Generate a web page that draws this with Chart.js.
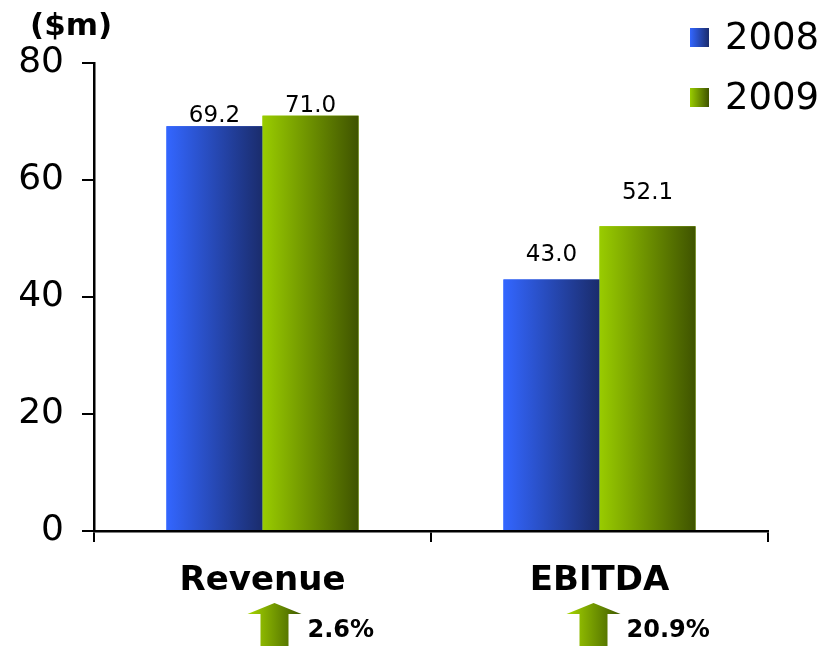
<!DOCTYPE html>
<html>
<head>
<meta charset="utf-8">
<script src="https://cdn.jsdelivr.net/npm/chart.js@4"></script>
<style>
  html, body { margin: 0; padding: 0; background: #fff; }
  #wrap { width: 827px; height: 646px; }
</style>
</head>
<body>
<div id="wrap"><canvas id="revChart" width="827" height="646"></canvas></div>
<script>
// chart data
const categories = ["Revenue", "EBITDA"];
const years = ["2008", "2009"];
const values2008 = [69.2, 43.0];
const values2009 = [71.0, 52.1];
const growthLabels = ["2.6%", "20.9%"];
const yTicks = [0, 20, 40, 60, 80];

const FONT = "'DejaVu Sans', Verdana, sans-serif";

// horizontal gradient stops for each series
const gradStops = [
  ["#3366ff", "#1a2c6c"],
  ["#99cc00", "#3f5300"],
];

function hGrad(ctx, x0, x1, stops) {
  const g = ctx.createLinearGradient(x0, 0, x1, 0);
  g.addColorStop(0, stops[0]);
  g.addColorStop(1, stops[1]);
  return g;
}

// paint the bars with gradients and put value labels above them
const barPaint = {
  id: "barPaint",
  afterDatasetsDraw(chart) {
    const ctx = chart.ctx;
    const gaps = [[4, 4], [18, 27]]; // label gap above bar, per category/series
    chart.data.datasets.forEach((ds, di) => {
      const meta = chart.getDatasetMeta(di);
      meta.data.forEach((el, i) => {
        const left = el.x - el.width / 2;
        const right = el.x + el.width / 2;
        ctx.save();
        ctx.fillStyle = hGrad(ctx, left, right, gradStops[di]);
        ctx.fillRect(left, el.y, el.width, el.base - el.y);
        ctx.fillStyle = "#000";
        ctx.font = "23px " + FONT;
        ctx.textAlign = "center";
        ctx.textBaseline = "alphabetic";
        ctx.fillText(ds.data[i].toFixed(1), el.x, el.y - gaps[i][di]);
        ctx.restore();
      });
    });
  },
  afterDraw(chart) {
    const ctx = chart.ctx;
    const xs = chart.scales.x;
    ctx.save();
    // unit label
    ctx.fillStyle = "#000";
    ctx.font = "bold 31px " + FONT;
    ctx.textBaseline = "middle";
    ctx.textAlign = "left";
    ctx.fillText("($m)", 30, 27);

    // legend
    years.forEach((y, i) => {
      const top = 28 + i * 60;
      ctx.fillStyle = hGrad(ctx, 690, 709, gradStops[i]);
      ctx.fillRect(690, top, 19, 19);
      ctx.fillStyle = "#000";
      ctx.font = "37px " + FONT;
      ctx.textBaseline = "middle";
      ctx.fillText(y, 725, top + 11);
    });

    // growth arrows under the categories
    const arrowShift = [12, -6];
    growthLabels.forEach((txt, i) => {
      const cx = xs.getPixelForValue(i) + arrowShift[i];
      const tipY = 603, neckY = 614, bottom = 646;
      ctx.beginPath();
      ctx.moveTo(cx, tipY);
      ctx.lineTo(cx + 27, neckY);
      ctx.lineTo(cx + 14, neckY);
      ctx.lineTo(cx + 14, bottom);
      ctx.lineTo(cx - 14, bottom);
      ctx.lineTo(cx - 14, neckY);
      ctx.lineTo(cx - 27, neckY);
      ctx.closePath();
      ctx.fillStyle = hGrad(ctx, cx - 27, cx + 27, ["#a6d600", "#3f5a00"]);
      ctx.fill();
      ctx.fillStyle = "#000";
      ctx.font = "bold 24px " + FONT;
      ctx.textBaseline = "middle";
      ctx.textAlign = "left";
      ctx.fillText(txt, cx + 33, 631);
    });
    ctx.restore();
  },
};

const ctx = document.getElementById("revChart").getContext("2d");
const revChart = new Chart(ctx, {
  type: "bar",
  data: {
    labels: categories,
    datasets: [
      { label: years[0], data: values2008, backgroundColor: gradStops[0][0] },
      { label: years[1], data: values2009, backgroundColor: gradStops[1][0] },
    ],
  },
  options: {
    responsive: false,
    animation: false,
    layout: { padding: { left: 0, right: 59, top: 63, bottom: 0 } },
    datasets: {
      bar: { categoryPercentage: 0.57, barPercentage: 1.0, borderWidth: 0 },
    },
    plugins: {
      legend: { display: false },
      tooltip: { enabled: false },
    },
    scales: {
      x: {
        offset: true,
        grid: {
          offset: true,
          drawOnChartArea: false,
          color: "#000",
          lineWidth: 2,
          tickLength: 11,
        },
        border: { display: true, color: "#000", width: 2.5 },
        ticks: {
          color: "#000",
          padding: 19,
          font: { family: FONT, size: 34, weight: "bold" },
        },
        afterFit(scale) {
          scale.height = 115;
        },
      },
      y: {
        min: 0,
        max: 80,
        afterBuildTicks(scale) {
          scale.ticks = yTicks.map((v) => ({ value: v }));
        },
        grid: {
          drawOnChartArea: false,
          color: "#000",
          lineWidth: 2,
          tickLength: 12,
        },
        border: { display: true, color: "#000", width: 2.5 },
        ticks: {
          color: "#000",
          padding: 18,
          font: { family: FONT, size: 36 },
        },
        afterFit(scale) {
          scale.width = 94;
        },
      },
    },
  },
  plugins: [barPaint],
});
</script>
</body>
</html>
